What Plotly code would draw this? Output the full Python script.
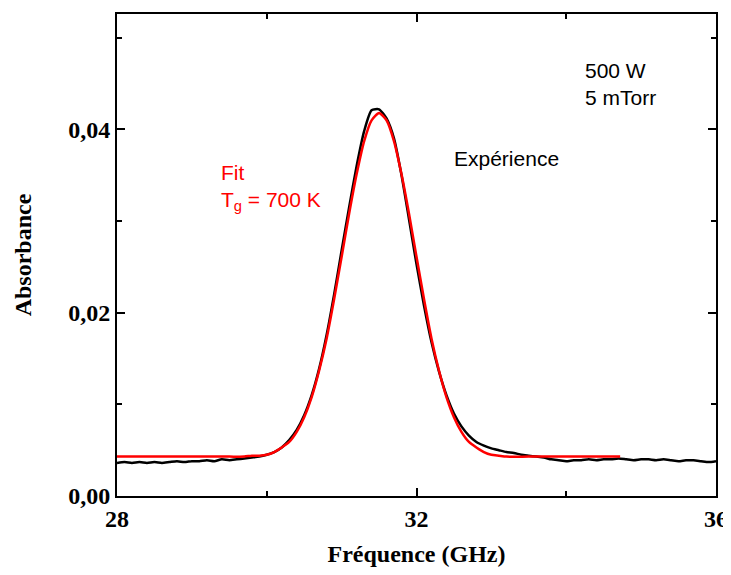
import plotly.graph_objects as go

freq_exp = [28.0, 28.1, 28.2, 28.3, 28.4, 28.5, 28.6, 28.7, 28.8, 28.9,
            29.0, 29.1, 29.2, 29.3, 29.4, 29.5, 29.6, 29.7, 29.8, 29.9,
            30.0, 30.1, 30.2, 30.3, 30.4, 30.5, 30.6, 30.7, 30.8, 30.9,
            31.0, 31.1, 31.2, 31.3, 31.4, 31.5, 31.6, 31.7, 31.8, 31.9,
            32.0, 32.1, 32.2, 32.3, 32.4, 32.5, 32.6, 32.7, 32.8, 32.9,
            33.0, 33.1, 33.2, 33.3, 33.4, 33.5, 33.6, 33.7, 33.8, 33.9,
            34.0, 34.1, 34.2, 34.3, 34.4, 34.5, 34.6, 34.7, 34.8, 34.9,
            35.0, 35.1, 35.2, 35.3, 35.4, 35.5, 35.6, 35.7, 35.8, 35.9, 36.0]
abs_exp = [0.0036, 0.0037, 0.0036, 0.0037, 0.0036, 0.0037, 0.0036, 0.0037, 0.0038, 0.0037,
           0.0038, 0.0038, 0.0039, 0.0038, 0.0040, 0.0039, 0.0040, 0.0041, 0.0042, 0.0043,
           0.0045, 0.0048, 0.0053, 0.0061, 0.0072, 0.0088, 0.0110, 0.0139, 0.0176, 0.0220,
           0.0268, 0.0315, 0.0360, 0.0398, 0.0421, 0.0422, 0.0412, 0.0390, 0.0350, 0.0302,
           0.0253, 0.0208, 0.0168, 0.0136, 0.0110, 0.0090, 0.0076, 0.0066, 0.0059, 0.0055,
           0.0052, 0.0050, 0.0048, 0.0047, 0.0045, 0.0044, 0.0043, 0.0042, 0.0040, 0.0039,
           0.0038, 0.0039, 0.0039, 0.0040, 0.0039, 0.0040, 0.0040, 0.0041, 0.0040, 0.0039,
           0.0040, 0.0040, 0.0039, 0.0040, 0.0039, 0.0038, 0.0039, 0.0039, 0.0038, 0.0037, 0.0038]

# fit (red), Tg = 700 K
freq_fit = [28.0, 29.0, 29.5, 29.7, 29.8, 29.9,
            30.0, 30.1, 30.2, 30.3, 30.4, 30.5, 30.6, 30.7, 30.8, 30.9,
            31.0, 31.1, 31.2, 31.3, 31.4, 31.5, 31.6, 31.7, 31.8, 31.9,
            32.0, 32.1, 32.2, 32.3, 32.4, 32.5, 32.6, 32.7, 32.8, 32.9,
            33.0, 33.1, 33.2, 33.5, 34.0, 34.72]
abs_fit = [0.0043, 0.0043, 0.0043, 0.0043, 0.0044, 0.0044,
           0.0045, 0.0048, 0.0053, 0.0059, 0.0070, 0.0086, 0.0108, 0.0137, 0.0172, 0.0215,
           0.0261, 0.0308, 0.0351, 0.0387, 0.0410, 0.0418, 0.0410, 0.0387, 0.0351, 0.0308,
           0.0261, 0.0215, 0.0172, 0.0137, 0.0108, 0.0086, 0.0070, 0.0059, 0.0053, 0.0048,
           0.0045, 0.0044, 0.0043, 0.0043, 0.0043, 0.0043]

x_ticks = [28, 32, 36]
y_ticks = [0.0, 0.02, 0.04]

fig = go.Figure()
fig.add_trace(go.Scatter(x=freq_exp, y=abs_exp, mode="lines",
                         line=dict(color="black", width=2.5, shape="spline", smoothing=0.6),
                         name="Expérience"))
fig.add_trace(go.Scatter(x=freq_fit, y=abs_fit, mode="lines",
                         line=dict(color="red", width=2.5, shape="spline", smoothing=0.6),
                         name="Fit"))

serif = "Liberation Serif"
sans = "Liberation Sans"

axis_common = dict(showline=True, linecolor="black", linewidth=2, mirror="allticks",
                   ticks="inside", ticklen=8, tickwidth=1.5, tickcolor="black",
                   showgrid=False, zeroline=False, automargin=False,
                   tickfont=dict(family=serif, size=24, color="black", weight="bold"))

fig.update_xaxes(range=[28, 36], tickvals=x_ticks,
                 minor=dict(ticks="inside", ticklen=5, tickwidth=1.5, tickcolor="black", dtick=2),
                 title=dict(text="Fréquence (GHz)", standoff=26,
                            font=dict(family=serif, size=24, color="black", weight="bold")),
                 **axis_common)
fig.update_yaxes(range=[0, 0.0526], tickvals=y_ticks, tickformat=".2f",
                 minor=dict(ticks="inside", ticklen=5, tickwidth=1.5, tickcolor="black", dtick=0.01),
                 title=dict(text="Absorbance", standoff=30,
                            font=dict(family=serif, size=24, color="black", weight="bold")),
                 **axis_common)

fig.add_annotation(x=34.22, y=0.0464, xref="x", yref="y", text="500 W", showarrow=False,
                   xanchor="left", font=dict(family=sans, size=21, color="black"))
fig.add_annotation(x=34.22, y=0.0435, xref="x", yref="y", text="5 mTorr", showarrow=False,
                   xanchor="left", font=dict(family=sans, size=21, color="black"))
fig.add_annotation(x=32.48, y=0.0368, xref="x", yref="y", text="Expérience", showarrow=False,
                   xanchor="left", font=dict(family=sans, size=21, color="black"))
fig.add_annotation(x=29.36, y=0.0353, xref="x", yref="y", text="Fit", showarrow=False,
                   xanchor="left", font=dict(family=sans, size=21, color="red"))
fig.add_annotation(x=29.36, y=0.0322, xref="x", yref="y", text="T<sub>g</sub> = 700 K",
                   showarrow=False, xanchor="left", font=dict(family=sans, size=21, color="red"))

# page body adds an 8px offset; keep the figure inside the window
fig.update_layout(width=723, height=559, separators=", ",
                  margin=dict(l=109, r=15, t=6, b=71),
                  plot_bgcolor="white", paper_bgcolor="white",
                  showlegend=False)

fig.write_html("out.html")
